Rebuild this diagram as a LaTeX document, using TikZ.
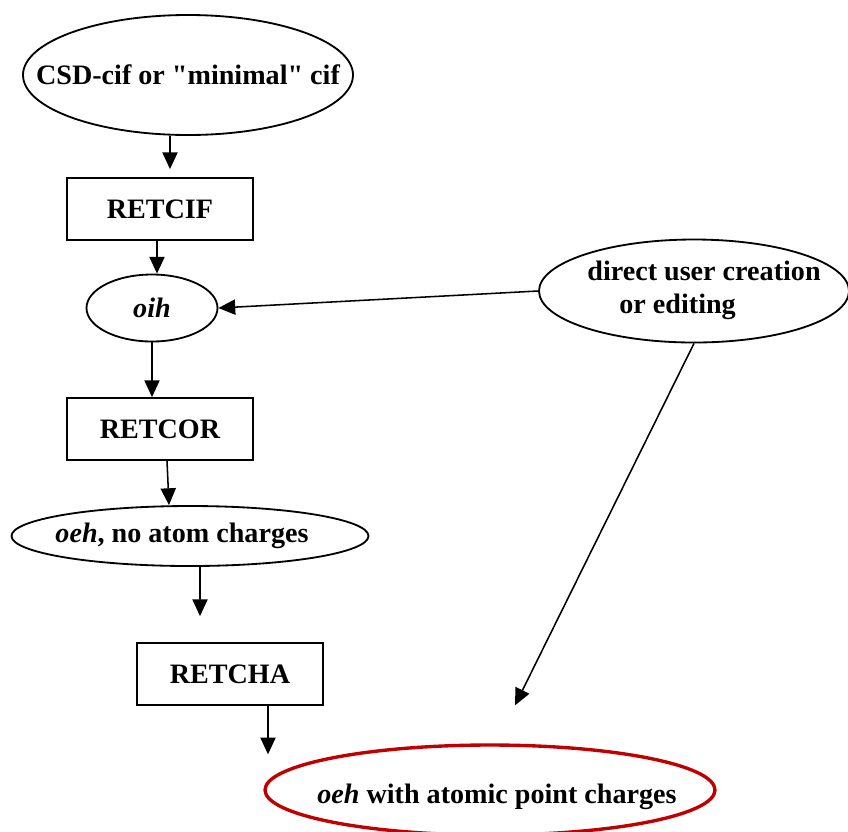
\documentclass[tikz,border=0pt]{standalone}
\usepackage{fontspec}
\setmainfont{Liberation Serif}[Ligatures=TeXOff]
\usepackage{tikz}
\usetikzlibrary{arrows.meta,positioning}
\usetikzlibrary{shapes.geometric}
\definecolor{chargered}{RGB}{192,0,0}

\begin{document}
\begin{tikzpicture}[
                every node/.style={font=\fontsize{20}{23.5}\selectfont\bfseries},
                prog/.style={draw, line width=1.3pt, minimum width=4.65cm, minimum height=1.55cm, inner sep=0pt},
                oval/.style={draw, ellipse, line width=1.3pt, inner sep=0pt},
                rel/.style={-{Triangle[length=4.2mm,width=3.8mm]}, line width=1.1pt}
            ]
                \useasboundingbox (0,0) rectangle (21.2,-20.775);
                \clip (0,0) rectangle (21.2,-20.775);

                % Input file
                \node[oval, minimum width=8.25cm, minimum height=3cm, label=center:{CSD-cif or "minimal" cif}] (csd) at (4.7,-1.875) {};

                % Left column: programs and intermediate files
                \node[prog] (retcif) at (4.0,-5.225) {RETCIF};
                \node[oval, minimum width=3.275cm, minimum height=1.675cm] (oih) at (3.8,-7.7) {\textit{oih}};
                \node[prog] (retcor) at (4.0,-10.725) {RETCOR};
                \node[oval, minimum width=8.925cm, minimum height=1.5cm, label={[xshift=-0.2cm]center:{\textit{oeh}, no atom charges}}] (oehplain) at (4.75,-13.4) {};
                \node[prog] (retcha) at (5.75,-16.85) {RETCHA};

                % Manual route on the right
                \node[oval, minimum width=7.75cm, minimum height=2.575cm, label={[align=left, xshift=0.25cm, yshift=0.02cm]center:{direct user creation\\\hspace*{0.8cm}or editing}}] (direct) at (17.35,-7.275) {};

                % Final result
                \node[oval, draw=chargered, line width=2.4pt, minimum width=11.25cm, minimum height=2.25cm, label={[xshift=0.175cm, yshift=-0.18cm]center:{\textit{oeh} with atomic point charges}}] (oehcharged) at (12.25,-19.75) {};

                % Flow
                \draw[rel] ([xshift=-0.45cm]csd.south) -- ([xshift=0.25cm,yshift=0.2cm]retcif.north);
                \draw[rel] ([xshift=-0.075cm]retcif.south) -- ([xshift=-0.075cm]retcif.south |- oih.north);
                \draw[rel] (direct.west) -- (oih.east);
                \draw[rel] (oih.south) -- (oih.south |- retcor.north);
                \draw[rel] ([xshift=0.175cm]retcor.south) -- ([xshift=-0.525cm]oehplain.north);
                \draw[rel] ([xshift=0.25cm]oehplain.south) -- ([xshift=-0.75cm,yshift=0.65cm]retcha.north);
                \draw[rel] ([xshift=0.95cm]retcha.south) -- ([xshift=-5.55cm,yshift=-0.275cm]oehcharged.north);
                \draw[rel] (direct.south) -- ([xshift=0.625cm,yshift=0.95cm]oehcharged.north);

            \end{tikzpicture}
\end{document}
